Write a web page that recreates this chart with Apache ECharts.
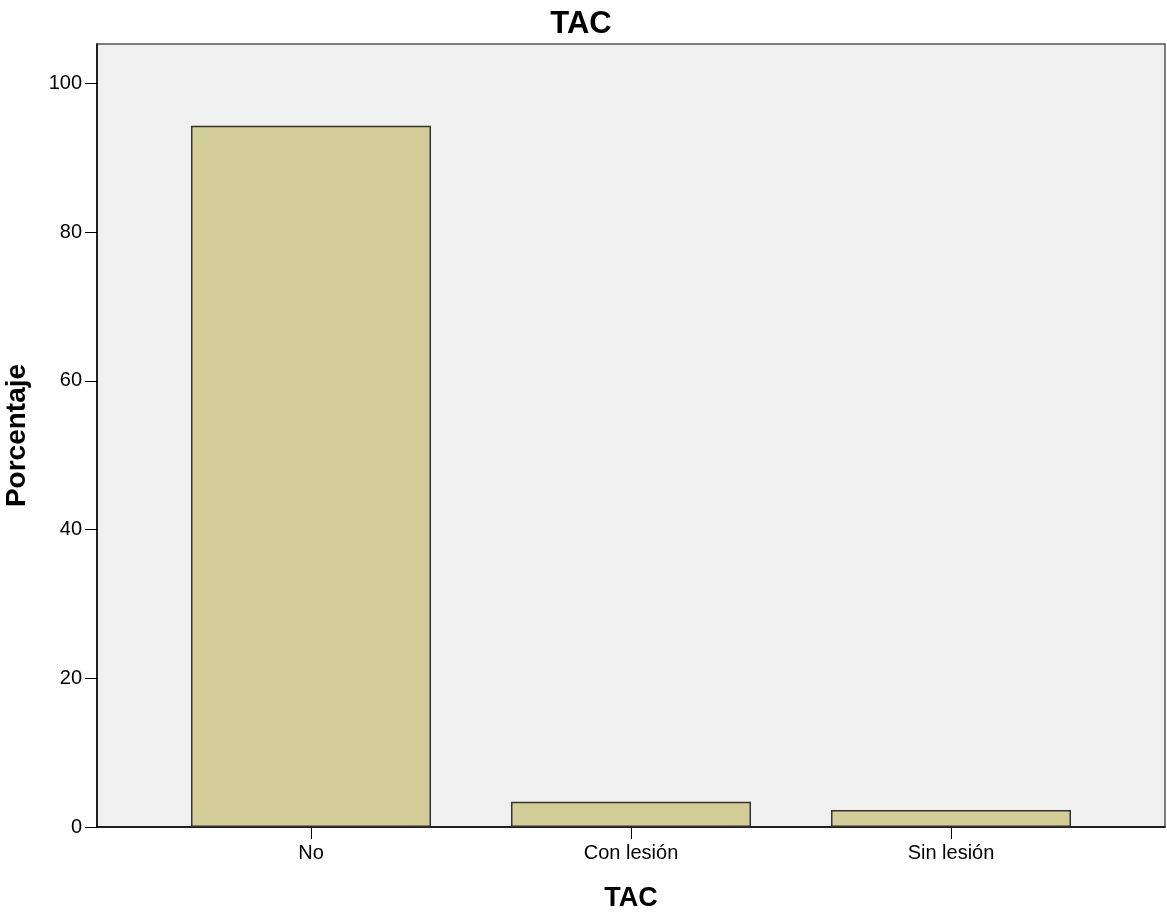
<!DOCTYPE html>
<html>
<head>
<meta charset="utf-8">
<script src="https://cdn.jsdelivr.net/npm/echarts@6/dist/echarts.min.js"></script>
<style>html,body{margin:0;padding:0;background:#fff}#c{width:1167px;height:915px}</style>
</head>
<body>
<div id="c"></div>
<script>
const categories = ['No', 'Con lesión', 'Sin lesión'];
const percentages = [94.3, 3.4, 2.3];
const yTicks = [0, 20, 40, 60, 80, 100];

const FONT = "'Liberation Sans', Arial, sans-serif";
const chart = echarts.init(document.getElementById('c'), null, {renderer: 'canvas'});
const yMax = 105.3;
chart.setOption({
  animation: false,
  backgroundColor: '#ffffff',
  title: {
    text: 'TAC', left: 576, top: 4, textAlign: 'center',
    textStyle: {fontFamily: FONT, fontSize: 31, fontWeight: 'bold', color: '#000'}
  },
  grid: [
    {left: 97, right: 2, top: 44, bottom: 88, show: true, backgroundColor: '#f0f0f0', borderColor: '#555', borderWidth: 1.5, containLabel: false, outerBoundsMode: 'none'},
    {left: 151, right: 56, top: 44, bottom: 88, containLabel: false, outerBoundsMode: 'none'}
  ],
  xAxis: [
    {gridIndex: 0, type: 'category', data: categories, axisLine: {lineStyle: {color: '#000', width: 1.5}}, axisTick: {show: false}, axisLabel: {show: false}, splitLine: {show: false}},
    {gridIndex: 1, type: 'category', data: categories, axisLine: {show: false},
     axisTick: {show: true, alignWithLabel: true, length: 12, lineStyle: {color: '#000'}},
     axisLabel: {margin: 16, fontFamily: FONT, fontSize: 20, color: '#000'},
     name: 'TAC', nameLocation: 'middle', nameGap: 58,
     nameTextStyle: {fontFamily: FONT, fontSize: 27, fontWeight: 'bold', color: '#000'}}
  ],
  yAxis: [
    {gridIndex: 0, type: 'value', min: 0, max: yMax,
     axisLine: {show: true, lineStyle: {color: '#000', width: 1.5}},
     axisTick: {show: true, length: 12, customValues: yTicks, lineStyle: {color: '#000'}},
     axisLabel: {margin: 15, customValues: yTicks, fontFamily: FONT, fontSize: 20, color: '#000'},
     splitLine: {show: false},
     name: 'Porcentaje', nameLocation: 'middle', nameGap: 66,
     nameTextStyle: {fontFamily: FONT, fontSize: 28, fontWeight: 'bold', color: '#000'}},
    {gridIndex: 1, type: 'value', min: 0, max: yMax, show: false}
  ],
  series: [{
    type: 'bar', xAxisIndex: 1, yAxisIndex: 1, data: percentages, barWidth: 240,
    itemStyle: {color: '#d3ce98', borderColor: '#333', borderWidth: 1.5}
  }]
});
</script>
</body>
</html>
